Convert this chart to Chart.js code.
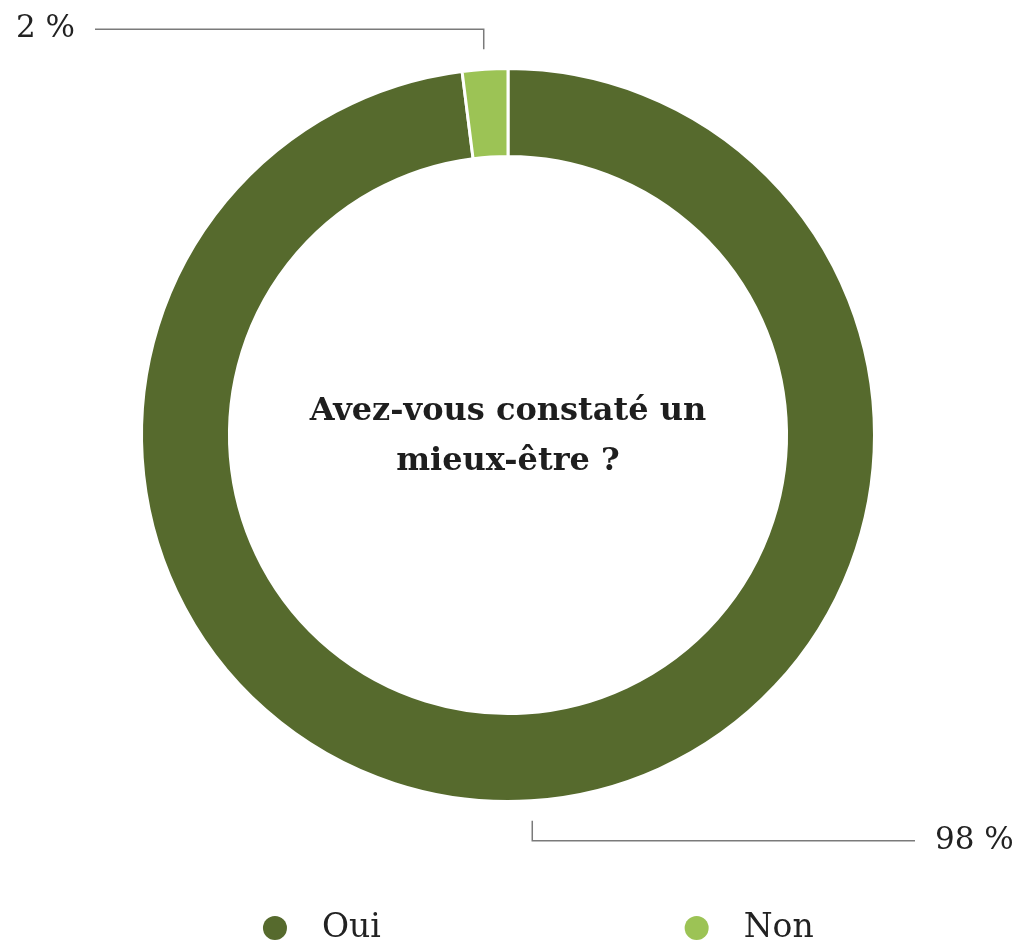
<!DOCTYPE html>
<html>
<head>
<meta charset="utf-8">
<script src="https://cdn.jsdelivr.net/npm/chart.js@4"></script>
<style>
  html, body { margin: 0; padding: 0; background: #fff; }
  #wrap { width: 1026px; height: 949px; }
</style>
</head>
<body>
<div id="wrap"><canvas id="donut"></canvas></div>
<script>
const categories = ['Oui', 'Non'];
const values = [98, 2];
const colors = ['#566a2d', '#9cc355'];
const valueLabels = ['98 %', '2 %'];
const centerLines = ['Avez-vous constaté un', 'mieux-être ?'];

const serif = '"DejaVu Serif", "Liberation Serif", serif';

// callout lines + percentage labels
const callouts = {
    id: 'callouts',
    afterDatasetsDraw(chart) {
        const c = chart.ctx;
        const meta = chart.getDatasetMeta(0);
        meta.data.forEach((arc, i) => {
            const mid = (arc.startAngle + arc.endAngle) / 2;
            const r = arc.outerRadius + 20;
            const x = arc.x + Math.cos(mid) * r;
            const y = arc.y + Math.sin(mid) * r;
            const up = Math.sin(mid) < 0;
            const ey = up ? y - 20 : y + 20;
            const left = x < arc.x;
            const ex = left ? chart.chartArea.left + 95 : chart.chartArea.right - 101;
            c.save();
            c.strokeStyle = '#7a7a7a';
            c.lineWidth = 1.5;
            c.beginPath();
            c.moveTo(x, y);
            c.lineTo(x, ey);
            c.lineTo(ex, ey);
            c.stroke();
            c.fillStyle = '#222';
            c.font = '31px ' + serif;
            c.textBaseline = 'middle';
            c.textAlign = left ? 'right' : 'left';
            c.fillText(valueLabels[i], left ? ex - 20 : ex + 20, ey);
            c.restore();
        });
    }
};

// question in the hole
const centerText = {
    id: 'centerText',
    afterDraw(chart) {
        const c = chart.ctx;
        const arc = chart.getDatasetMeta(0).data[0];
        c.save();
        c.fillStyle = '#1e1e1e';
        c.font = 'bold 32px ' + serif;
        c.textAlign = 'center';
        c.textBaseline = 'middle';
        c.fillText(centerLines[0], arc.x, arc.y - 23);
        c.fillText(centerLines[1], arc.x, arc.y + 27);
        c.restore();
    }
};

// legend spread along the bottom
const bottomLegend = {
    id: 'bottomLegend',
    afterDraw(chart) {
        const c = chart.ctx;
        const spots = [0.268, 0.679];
        const y = chart.height - 21;
        categories.forEach((name, i) => {
            const x = chart.width * spots[i];
            c.save();
            c.fillStyle = colors[i];
            c.beginPath();
            c.arc(x, y, 12, 0, Math.PI * 2);
            c.fill();
            c.fillStyle = '#222';
            c.font = '33px ' + serif;
            c.textBaseline = 'middle';
            c.textAlign = 'left';
            c.fillText(name, x + 47, y);
            c.restore();
        });
    }
};

const ctx = document.getElementById('donut').getContext('2d');

let chart = new Chart(ctx, {
    type: 'doughnut',
    data: {
        labels: categories,
        datasets: [{
            data: values,
            backgroundColor: colors,
            borderColor: '#ffffff',
            borderWidth: 3
        }]
    },
    options: {
        responsive: true,
        maintainAspectRatio: false,
        animation: false,
        cutout: '76%',
        layout: {
            padding: { top: 67, bottom: 146, left: 0, right: 10 }
        },
        plugins: {
            legend: { display: false },
            tooltip: { enabled: false }
        }
    },
    plugins: [callouts, centerText, bottomLegend]
});
</script>
</body>
</html>
